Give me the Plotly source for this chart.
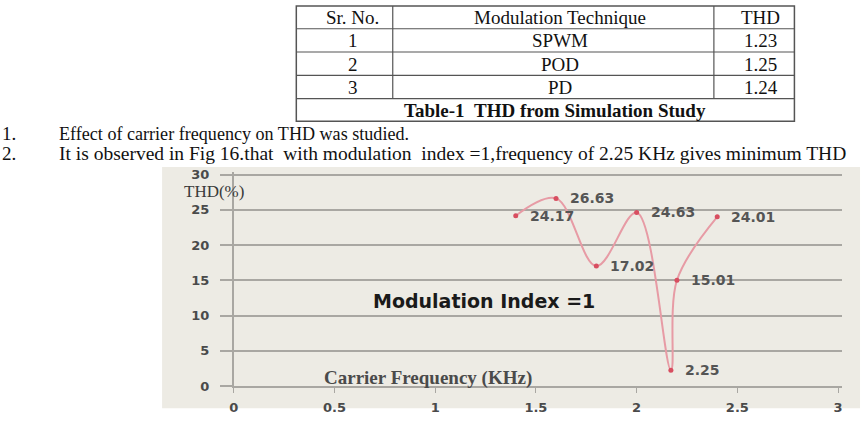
import plotly.graph_objects as go

# ---------------- data ----------------
sr_no = ["1", "2", "3"]
techniques = ["SPWM", "POD", "PD"]
thd_table = ["1.23", "1.25", "1.24"]
table_headers = ["Sr. No.", "Modulation Technique", "THD"]
table_caption = "Table-1\u00a0\u00a0THD from Simulation Study"

point_labels = ["1.", "2."]
point_texts = [
    "Effect of carrier frequency on THD was studied.",
    "It is observed in Fig 16.that\u00a0\u00a0with modulation\u00a0\u00a0index =1,frequency of 2.25 KHz gives minimum THD",
]

carrier_freq = [1.4, 1.6, 1.8, 2.0, 2.17, 2.2, 2.4]
thd_values = [24.17, 26.63, 17.02, 24.63, 2.25, 15.01, 24.01]
x_ticks = [0, 0.5, 1, 1.5, 2, 2.5, 3]
x_tick_labels = ["0", "0.5", "1", "1.5", "2", "2.5", "3"]
y_ticks = [0, 5, 10, 15, 20, 25, 30]

# ---------------- helpers (pixel -> paper) ----------------
W, H = 867, 426
def px(x):
    return x / W
def py(y):
    return 1 - y / H

fig = go.Figure()

fig.add_trace(go.Scatter(
    x=carrier_freq, y=thd_values, mode="lines+markers",
    line=dict(color="#E79BA5", width=2, shape="spline", smoothing=1),
    marker=dict(color="#D84E60", size=5),
    hoverinfo="x+y", showlegend=False,
))

shapes = []
annotations = []

# chart background box
shapes.append(dict(type="rect", xref="paper", yref="paper",
                   x0=px(158), x1=px(860), y0=py(416), y1=py(167),
                   fillcolor="#EDEBE4", line=dict(width=0), layer="below"))

# table lines
tcol = "#555555"
tl, tr, tt, tb = 293, 794, 1, 120
row_lines = [24.5, 48.5, 72.5, 96.5]
col_lines = [390, 713]
shapes.append(dict(type="rect", xref="paper", yref="paper",
                   x0=px(tl), x1=px(tr), y0=py(tb), y1=py(tt),
                   line=dict(color=tcol, width=1.5)))
for ry in row_lines:
    shapes.append(dict(type="line", xref="paper", yref="paper",
                       x0=px(tl), x1=px(tr), y0=py(ry), y1=py(ry),
                       line=dict(color=tcol, width=1.2)))
for cx in col_lines:
    shapes.append(dict(type="line", xref="paper", yref="paper",
                       x0=px(cx), x1=px(cx), y0=py(row_lines[-1]), y1=py(tt),
                       line=dict(color=tcol, width=1.2)))

serif = "Liberation Serif"
col_centers = [350, 558, 760]
row_centers = [13, 37, 61, 85]
tfont = dict(family=serif, size=19, color="#111111")
for c, h in enumerate(table_headers):
    annotations.append(dict(x=px(col_centers[c]), y=py(row_centers[0]), xref="paper", yref="paper",
                            text=h, showarrow=False, font=tfont, xanchor="center", yanchor="middle"))
for i in range(len(sr_no)):
    for c, v in enumerate([sr_no[i], techniques[i], thd_table[i]]):
        annotations.append(dict(x=px(col_centers[c]), y=py(row_centers[i + 1]), xref="paper", yref="paper",
                                text=v, showarrow=False, font=tfont, xanchor="center", yanchor="middle"))
annotations.append(dict(x=px(553), y=py(108.5), xref="paper", yref="paper",
                        text="<b>" + table_caption + "</b>", showarrow=False,
                        font=dict(family=serif, size=19, color="#111111"),
                        xanchor="center", yanchor="middle"))

# body text lines
line_y = [133, 153]
line_sizes = [18.1, 19.5]
for lbl, txt, ly, lsz in zip(point_labels, point_texts, line_y, line_sizes):
    annotations.append(dict(x=px(13), y=py(ly), xref="paper", yref="paper", text=lbl,
                            showarrow=False, font=dict(family=serif, size=19, color="#111111"),
                            xanchor="right", yanchor="middle"))
    annotations.append(dict(x=px(52), y=py(ly), xref="paper", yref="paper", text=txt,
                            showarrow=False, font=dict(family=serif, size=lsz, color="#111111"),
                            xanchor="left", yanchor="middle"))

# chart texts
annotations.append(dict(x=px(210), y=py(192), xref="paper", yref="paper", text="THD(%)",
                        showarrow=False, font=dict(family=serif, size=17, color="#3a3a3a"),
                        xanchor="center", yanchor="middle"))
annotations.append(dict(x=px(482), y=py(305), xref="paper", yref="paper", text="<b>Modulation Index =1</b>",
                        showarrow=False, font=dict(family="DejaVu Sans", size=19, color="#1a1a1a"),
                        xanchor="center", yanchor="middle"))
annotations.append(dict(x=px(425), y=py(385), xref="paper", yref="paper", text="<b>Carrier Frequency (KHz)</b>",
                        showarrow=False, font=dict(family=serif, size=19, color="#4a4a4a"),
                        xanchor="center", yanchor="middle"))

# data labels
for xv, yv in zip(carrier_freq, thd_values):
    annotations.append(dict(x=xv, y=yv, xref="x", yref="y", text="%.2f" % yv,
                            showarrow=False, xanchor="left", yanchor="middle", xshift=12,
                            font=dict(family="DejaVu Sans", size=14, color="#555555", weight="bold")))

grid_col = "#A9A7A2"
fig.update_layout(
    width=W, height=H, margin=dict(l=0, r=0, t=0, b=0),
    paper_bgcolor="white", plot_bgcolor="rgba(0,0,0,0)",
    shapes=shapes, annotations=annotations,
    xaxis=dict(domain=[px(230), px(842)], range=[0, 3.02],
               tickvals=x_ticks, ticktext=x_tick_labels,
               showgrid=False, zeroline=False,
               showline=True, linecolor=grid_col, linewidth=1.5,
               ticks="outside", ticklen=5, tickcolor=grid_col, tickwidth=1.2,
               ticklabelstandoff=4,
               tickfont=dict(family="DejaVu Sans", size=13, color="#4a4a4a", weight="bold"),
               fixedrange=True),
    yaxis=dict(domain=[py(393), py(172.1)], range=[0, 30.4],
               tickvals=y_ticks,
               showgrid=True, gridcolor=grid_col, gridwidth=1.5, zeroline=False,
               showline=True, linecolor=grid_col, linewidth=1.5,
               ticks="outside", ticklen=12, tickcolor=grid_col, tickwidth=1.5,
               ticklabelstandoff=8,
               tickfont=dict(family="DejaVu Sans", size=13, color="#4a4a4a", weight="bold"),
               fixedrange=True),
)

fig.write_html("out.html")
